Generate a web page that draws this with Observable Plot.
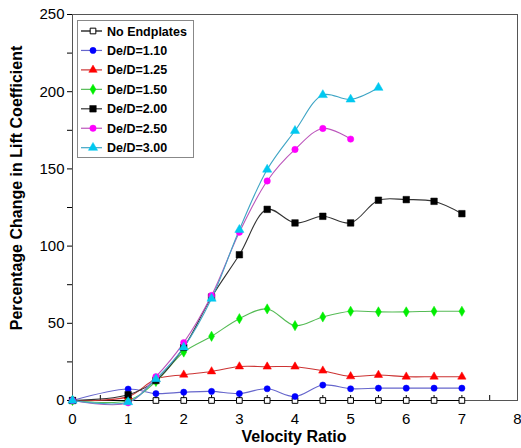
<!DOCTYPE html>
<html><head><meta charset="utf-8">
<script src="https://cdn.jsdelivr.net/npm/d3@7"></script>
<script src="https://cdn.jsdelivr.net/npm/@observablehq/plot@0.6"></script>
<style>
body{margin:0;background:#fff;font-family:"Liberation Sans",Arial,sans-serif}
#wrap{position:relative;width:521px;height:448px;overflow:hidden}
.ttl{position:absolute;font-weight:bold;font-size:16px;color:#000;white-space:nowrap}
</style></head><body><div id="wrap"></div>
<script>
const velocityRatio = [0, 1, 1.5, 2, 2.5, 3, 3.5, 4, 4.5, 5, 5.5, 6, 6.5, 7];
const noEndplates = [0, 0, 0, 0, 0, 0, 0, 0, 0, 0, 0, 0, 0, 0];
const de110 = [0, 7.4, 4.5, 5.4, 5.9, 4.5, 7.6, 2.6, 10, 7.6, 8, 8, 8, 8];
const de125 = [0, 2.5, 13.9, 16.7, 18.8, 22, 21.9, 21.9, 19.3, 15.6, 16.5, 15.4, 15.4, 15.4];
const de150 = [0, 0, 12.3, 31.4, 41.6, 53, 59.3, 48.5, 54.1, 57.8, 57.4, 57.4, 57.8, 57.8];
const de200 = [0, 3.7, 13, 34.4, 67, 94.4, 123.8, 115, 119.3, 115, 129.7, 130.1, 129, 121];
const de250 = [0, -1.5, 15.4, 37.5, 68, 109, 142.2, 162.6, 176.2, 169.3];
const de300 = [0, -1, 13.9, 34.4, 66, 110.6, 149.6, 174.7, 197.9, 195, 202.6];
const seriesNames = ["No Endplates", "De/D=1.10", "De/D=1.25", "De/D=1.50", "De/D=2.00", "De/D=2.50", "De/D=3.00"];
const xTicks = [0, 0.5, 1, 1.5, 2, 2.5, 3, 3.5, 4, 4.5, 5, 5.5, 6, 6.5, 7, 7.5, 8];
const yTicks = [0, 25, 50, 75, 100, 125, 150, 175, 200, 225, 250];

const styles = [
  {symbol: "square", fill: "white", stroke: "#000", line: "#000", r: 3.2},
  {symbol: "circle", fill: "#0000ff", stroke: "#0000ff", line: "#6666cc", r: 3.1},
  {symbol: "triangle", fill: "#ff0000", stroke: "#ff0000", line: "#cc3333", r: 3.1},
  {symbol: "diamond", fill: "#00ee00", stroke: "#00ee00", line: "#55bb55", r: 3.1},
  {symbol: "square", fill: "#000", stroke: "#000", line: "#333", r: 3.7},
  {symbol: "circle", fill: "#ff00ff", stroke: "#ff00ff", line: "#bb55bb", r: 3.2},
  {symbol: "triangle", fill: "#00c8f0", stroke: "#00c8f0", line: "#3fa5c5", r: 3.4}
];
const valuesList = [noEndplates, de110, de125, de150, de200, de250, de300];
const data = valuesList.map((vals, k) => vals.map((v, i) => ({series: seriesNames[k], x: velocityRatio[i], y: v})));

const marks = [];
data.forEach((rows, k) => {
  marks.push(Plot.line(rows, {x: "x", y: "y", stroke: styles[k].line, strokeWidth: 1.1, curve: "catmull-rom"}));
});
data.forEach((rows, k) => {
  const s = styles[k];
  marks.push(Plot.dot(rows, {x: "x", y: "y", symbol: s.symbol, fill: s.fill, stroke: s.stroke, r: s.r, strokeWidth: k === 0 ? 1 : 0.5}));
});

const chart = Plot.plot({
  width: 521, height: 448,
  marginLeft: 72, marginRight: 4, marginTop: 14, marginBottom: 48,
  style: {fontFamily: '"Liberation Sans", Arial, sans-serif', fontSize: "15px", color: "#000", background: "#fff"},
  x: {domain: [0, 8], ticks: xTicks, tickSize: -5, tickPadding: 18, label: null,
      tickFormat: d => Number.isInteger(d) ? String(d) : ""},
  y: {domain: [0, 250], ticks: yTicks, tickSize: 5, tickPadding: 3, label: null,
      tickFormat: d => d % 50 === 0 ? String(d) : ""},
  marks: [
    Plot.frame({stroke: "#555", strokeWidth: 1}),
    ...marks
  ]
});
const wrap = document.getElementById("wrap");
wrap.appendChild(chart);

// axis titles
const xt = document.createElement("div");
xt.className = "ttl"; xt.textContent = "Velocity Ratio";
xt.style.left = "294px"; xt.style.top = "428px"; xt.style.transform = "translateX(-50%)";
wrap.appendChild(xt);
const yt = document.createElement("div");
yt.className = "ttl"; yt.textContent = "Percentage Change in Lift Coefficient";
yt.style.left = "17px"; yt.style.top = "188px"; yt.style.transform = "translate(-50%,-50%) rotate(-90deg)";
wrap.appendChild(yt);

// legend
const lg = d3.select(wrap).append("svg")
  .style("position", "absolute").style("left", "77px").style("top", "20px")
  .attr("width", 117).attr("height", 138);
lg.append("rect").attr("x", 0.5).attr("y", 0.5).attr("width", 116).attr("height", 137)
  .attr("fill", "white").attr("stroke", "#888");
const symMap = {square: d3.symbolSquare, circle: d3.symbolCircle, triangle: d3.symbolTriangle, diamond: d3.symbolDiamond};
seriesNames.forEach((name, k) => {
  const s = styles[k];
  const cy = 11 + k * 19.45;
  const g = lg.append("g").attr("transform", `translate(0,${cy})`);
  g.append("line").attr("x1", 4).attr("x2", 25).attr("y1", 0).attr("y2", 0).attr("stroke", s.line).attr("stroke-width", 1.2);
  g.append("path").attr("transform", "translate(16,0)")
    .attr("d", d3.symbol(symMap[s.symbol], Math.PI * s.r * s.r)())
    .attr("fill", s.fill).attr("stroke", s.stroke).attr("stroke-width", k === 0 ? 1 : 0.5);
  g.append("text").attr("x", 30).attr("y", 0).attr("dy", "0.36em")
    .attr("font-family", '"Liberation Sans", Arial, sans-serif').attr("font-size", 12.5).attr("font-weight", "bold")
    .attr("fill", "#000").text(name);
});
</script>
</body></html>
